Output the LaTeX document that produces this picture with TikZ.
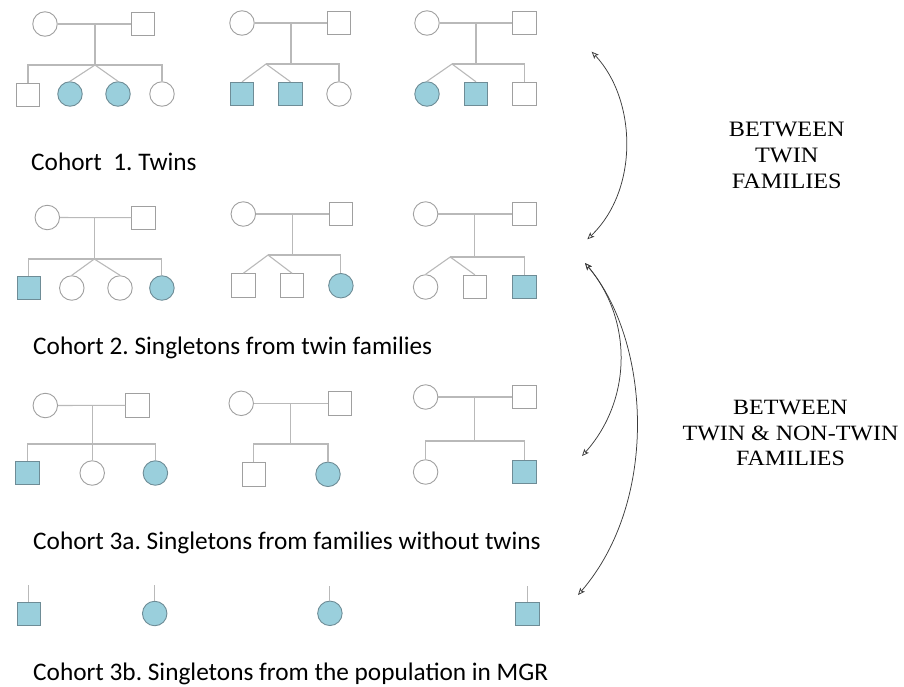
\documentclass[tikz,border=0pt]{standalone}
\usepackage{fontspec}
\setmainfont{Carlito}
\newfontfamily\rtfont[FakeStretch=1.1]{Liberation Serif}
\usetikzlibrary{arrows.meta}
\definecolor{affc}{RGB}{154,207,220}
\definecolor{affd}{RGB}{110,140,150}
\definecolor{outl}{RGB}{160,160,160}
\definecolor{linc}{RGB}{185,185,185}
\definecolor{arrc}{RGB}{60,60,60}
\tikzset{
  sq/.style={rectangle,draw=outl,line width=0.9pt,minimum size=23.5pt,inner sep=0pt},
  ci/.style={circle,draw=outl,line width=0.9pt,minimum size=24.5pt,inner sep=0pt},
  aff/.style={fill=affc,draw=affd},
  ln/.style={draw=linc,line width=1.1pt},
  lab/.style={anchor=base west,inner sep=0pt,font=\fontsize{25.3}{30}\selectfont},
  rtxt/.style={align=center,inner sep=0pt},
  arr/.style={draw=arrc,line width=0.75pt,{Stealth[open,length=7pt,width=6pt,inset=1.5pt]}-{Stealth[open,length=7pt,width=6pt,inset=1.5pt]}}
}
\frenchspacing
\begin{document}
\begin{tikzpicture}[x=1pt,y=-1pt]
\useasboundingbox (0,0) rectangle (904,686);
% ---------------- Row 1 ----------------
\node[ci] (r1am) at (45,24) {};
\node[sq] (r1af) at (143,24) {};
\draw[ln] (r1am) -- (r1af);
\coordinate (r1ap) at (95,24); \coordinate (r1aa) at (95,65);
\draw[ln] (r1ap) -- (r1aa);
\node[sq] (r1a1) at (28,95) {};
\node[ci,aff] (r1a2) at (70,94) {};
\node[ci,aff] (r1a3) at (118,94) {};
\node[ci] (r1a4) at (162,94) {};
\draw[ln] (r1a1.north) |- (r1a4.north |- r1aa) -- (r1a4.north);
\draw[ln] (r1a2.north) -- (r1aa) -- (r1a3.north);
\node[ci] (r1bm) at (242,23) {};
\node[sq] (r1bf) at (339,23) {};
\draw[ln] (r1bm) -- (r1bf);
\coordinate (r1bp) at (291,23); \coordinate (r1bq) at (291,64); \coordinate (r1ba) at (266,64);
\draw[ln] (r1bp) -- (r1bq);
\node[sq,aff] (r1b1) at (242,94) {};
\node[sq,aff] (r1b2) at (290.5,94) {};
\node[ci] (r1b3) at (339,94) {};
\draw[ln] (r1ba) -| (r1b3.north);
\draw[ln] (r1b1.north) -- (r1ba) -- (r1b2.north);
\node[ci] (r1cm) at (427,23) {};
\node[sq] (r1cf) at (524.5,23) {};
\draw[ln] (r1cm) -- (r1cf);
\coordinate (r1cp) at (476,23); \coordinate (r1cq) at (476,64); \coordinate (r1ca) at (452,64);
\draw[ln] (r1cp) -- (r1cq);
\node[ci,aff] (r1c1) at (427,94) {};
\node[sq,aff] (r1c2) at (476,94) {};
\node[sq] (r1c3) at (524.5,94) {};
\draw[ln] (r1ca) -| (r1c3.north);
\draw[ln] (r1c1.north) -- (r1ca) -- (r1c2.north);
\node[lab] (l1) at (31,170.5) {Cohort\ \ 1. Twins};
% ---------------- Row 2 ----------------
\node[ci] (r2am) at (47.3,217.5) {};
\node[sq] (r2af) at (143.6,217.7) {};
\draw[ln] (r2am) -- (r2af);
\coordinate (r2ap) at (94.3,218); \coordinate (r2aa) at (94.3,259);
\draw[ln] (r2ap) -- (r2aa);
\node[sq,aff] (r2a1) at (28.9,288) {};
\node[ci] (r2a2) at (71.8,288) {};
\node[ci] (r2a3) at (120,288) {};
\node[ci,aff] (r2a4) at (161.9,288) {};
\draw[ln] (r2a1.north) |- (r2a4.north |- r2aa) -- (r2a4.north);
\draw[ln] (r2a2.north) -- (r2aa) -- (r2a3.north);
\node[ci] (r2bm) at (243.3,214) {};
\node[sq] (r2bf) at (340.9,214) {};
\draw[ln] (r2bm) -- (r2bf);
\coordinate (r2bp) at (292.3,214); \coordinate (r2bq) at (292.3,255); \coordinate (r2ba) at (268,255);
\draw[ln] (r2bp) -- (r2bq);
\node[sq] (r2b1) at (243.3,285.5) {};
\node[sq] (r2b2) at (292.1,285.5) {};
\node[ci,aff] (r2b3) at (340.9,285.7) {};
\draw[ln] (r2ba) -| (r2b3.north);
\draw[ln] (r2b1.north) -- (r2ba) -- (r2b2.north);
\node[ci] (r2cm) at (425.6,214) {};
\node[sq] (r2cf) at (524.2,214) {};
\draw[ln] (r2cm) -- (r2cf);
\coordinate (r2cp) at (474.9,214); \coordinate (r2cq) at (474.9,257); \coordinate (r2ca) at (450.2,257);
\draw[ln] (r2cp) -- (r2cq);
\node[ci] (r2c1) at (425.6,287) {};
\node[sq] (r2c2) at (474.9,287) {};
\node[sq,aff] (r2c3) at (524.5,287) {};
\draw[ln] (r2ca) -| (r2c3.north);
\draw[ln] (r2c1.north) -- (r2ca) -- (r2c2.north);
\node[lab] (l2) at (33,354.5) {Cohort 2. Singletons from twin families};
% ---------------- Row 3 ----------------
\node[ci] (r3am) at (45.3,405.5) {};
\node[sq] (r3af) at (137.5,405.3) {};
\draw[ln] (r3am) -- (r3af);
\coordinate (r3ap) at (92.2,405.5); \coordinate (r3aa) at (92.2,444);
\node[sq,aff] (r3a1) at (27.3,473) {};
\node[ci] (r3a2) at (92.2,473) {};
\node[ci,aff] (r3a3) at (155.4,473) {};
\draw[ln] (r3ap) -- (r3a2.north);
\draw[ln] (r3a1.north) |- (r3a3.north |- r3aa) -- (r3a3.north);
\node[ci] (r3bm) at (241.2,403.3) {};
\node[sq] (r3bf) at (339.8,403.3) {};
\draw[ln] (r3bm) -- (r3bf);
\coordinate (r3bp) at (290.5,403.3); \coordinate (r3ba) at (290.5,444);
\draw[ln] (r3bp) -- (r3ba);
\node[sq] (r3b1) at (253.7,474.3) {};
\node[ci,aff] (r3b2) at (328,474.3) {};
\draw[ln] (r3b1.north) |- (r3b2.north |- r3ba) -- (r3b2.north);
\node[ci] (r3cm) at (425.6,397) {};
\node[sq] (r3cf) at (524.2,397) {};
\draw[ln] (r3cm) -- (r3cf);
\coordinate (r3cp) at (474.9,397); \coordinate (r3ca) at (474.9,441);
\draw[ln] (r3cp) -- (r3ca);
\node[ci] (r3c1) at (425.6,472) {};
\node[sq,aff] (r3c2) at (524.5,472) {};
\draw[ln] (r3c1.north) |- (r3c2.north |- r3ca) -- (r3c2.north);
\node[lab] (l3) at (33,549) {Cohort 3a. Singletons from families without twins};
% ---------------- Row 4 ----------------
\node[sq,aff] (r41) at (28.9,614) {};
\node[ci,aff] (r42) at (154.7,613.5) {};
\node[ci,aff] (r43) at (329.9,613.3) {};
\node[sq,aff] (r44) at (527.4,614) {};
\coordinate (t41) at (28.9,585); \coordinate (t42) at (154.7,585);
\coordinate (t43) at (329.9,586); \coordinate (t44) at (527.4,586);
\draw[ln] (t41) -- (r41.north);
\draw[ln] (t42) -- (r42.north);
\draw[ln] (t43) -- (r43.north);
\draw[ln] (t44) -- (r44.north);
\node[lab] (l4) at (33,680) {Cohort 3b. Singletons from the population in MGR};
% ---------------- Right side ----------------
\node[rtxt,font=\rtfont\fontsize{22}{26}\selectfont] (t1) at (786.7,155) {BETWEEN\\TWIN\\FAMILIES};
\node[rtxt,font=\rtfont\fontsize{21.8}{25.5}\selectfont] (t2) at (790.5,433.4) {BETWEEN\\TWIN \& NON-TWIN\\FAMILIES};
\coordinate (a1t) at (591.7,51.7);
\coordinate (a1b) at (587.3,239.3);
\coordinate (a2t) at (585,263);
\coordinate (a2b) at (582,456);
\coordinate (a3b) at (578,595);
\draw[arr] (a1t) .. controls (637,100) and (639,190) .. (a1b);
\draw[arr] (a2t) .. controls (633,320) and (632,400) .. (a2b);
\draw[arr] (a2t) .. controls (650,340) and (660,500) .. (a3b);
\end{tikzpicture}
\end{document}
